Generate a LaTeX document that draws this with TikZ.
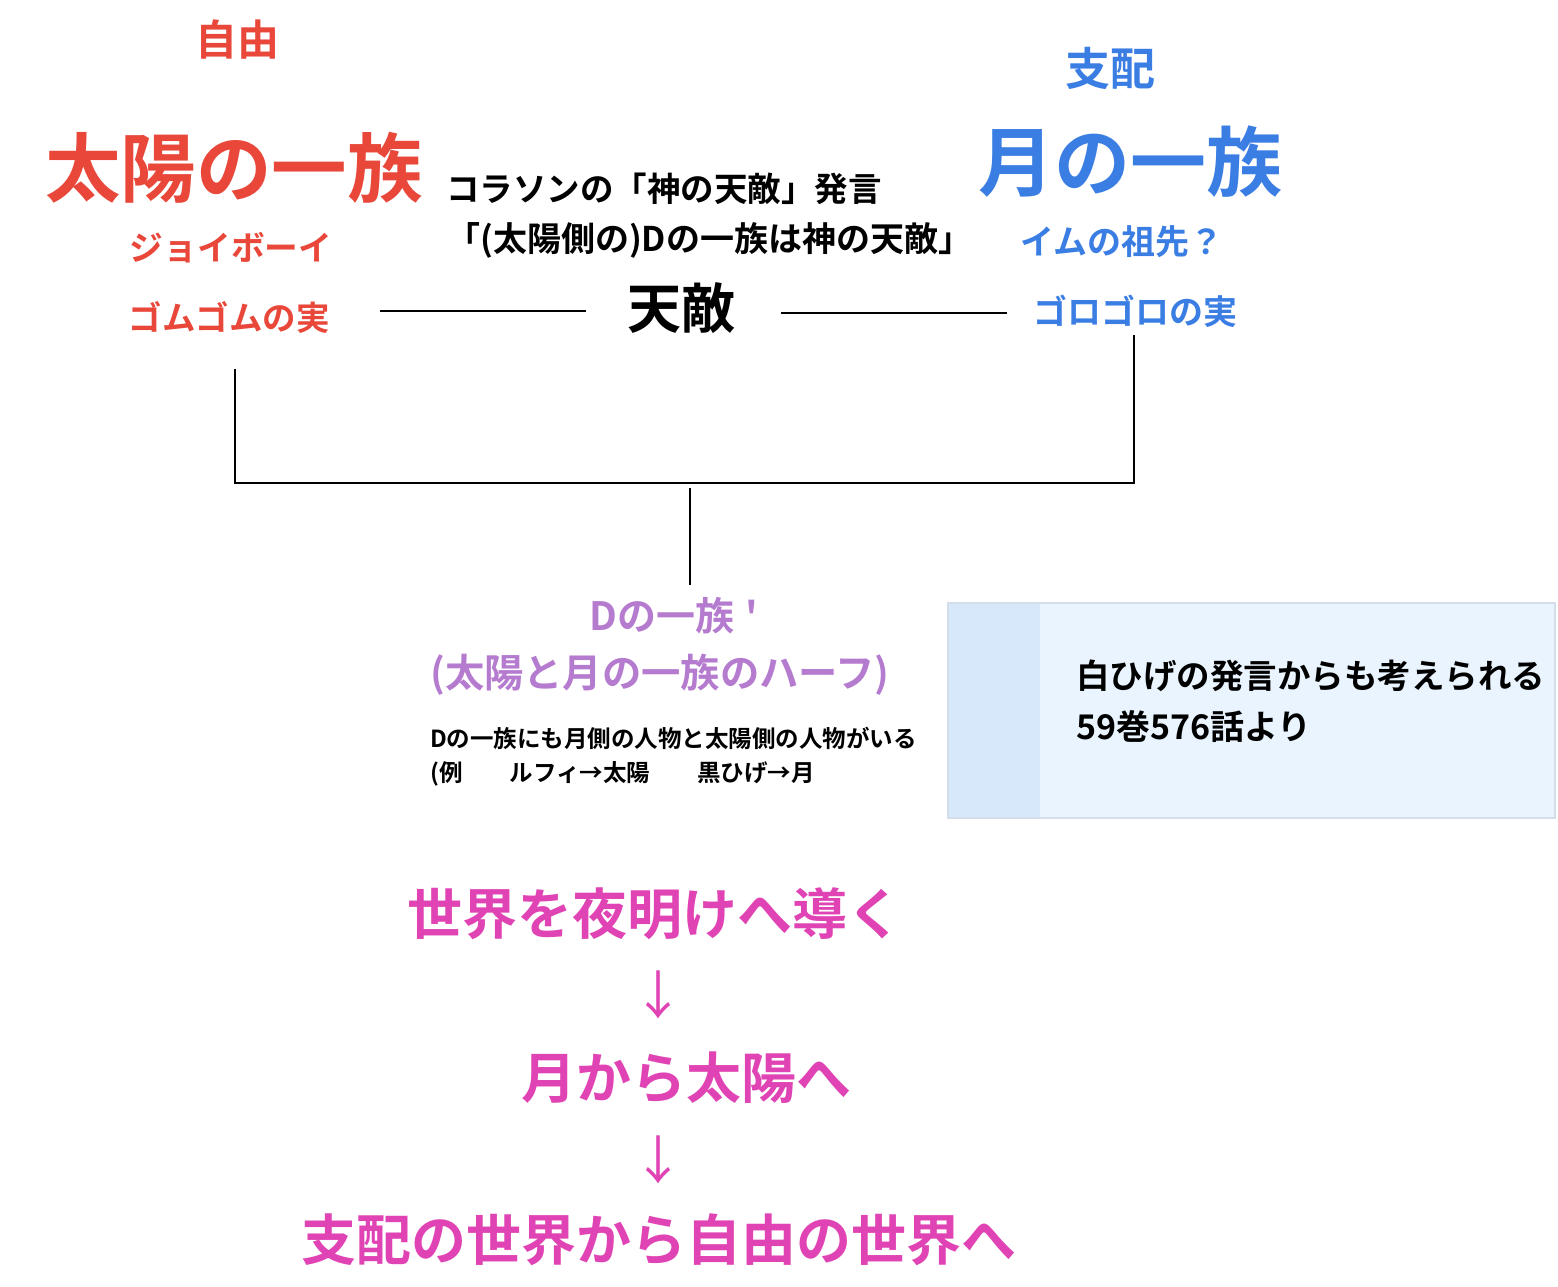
\documentclass[tikz,border=0pt]{standalone}
\usepackage{fontspec}
\newfontfamily\jp{Noto Sans CJK JP}[BoldFont={Noto Sans CJK JP Bold}]
\definecolor{sunred}{HTML}{E8473A}
\definecolor{moonblue}{HTML}{3A7DE3}
\definecolor{dpurple}{HTML}{B57BCF}
\definecolor{dawnpink}{HTML}{E044B4}
\definecolor{boxfill}{HTML}{EAF4FE}
\definecolor{boxstrip}{HTML}{D7E8FA}
\definecolor{boxedge}{HTML}{D3DEEA}
\tikzset{
  txt/.style={inner sep=0pt, font=\jp\bfseries},
  fs/.style={font=\jp\bfseries\fontsize{#1}{#1}\selectfont},
  link/.style={line width=2pt, black},
}
\begin{document}
\begin{tikzpicture}[x=1pt,y=-1pt]
\useasboundingbox (0,0) rectangle (1558,1286);
% left family
\node[txt, fs=42, text=sunred] (jiyu) at (237,40) {自由};
\node[txt, fs=75.5, text=sunred] (taiyo) at (234,168) {太陽の一族};
\node[txt, fs=33.7, text=sunred] (joy) at (231,248) {ジョイボーイ};
\node[txt, fs=33.5, text=sunred] (gomu) at (229,318) {ゴムゴムの実};
% right family
\node[txt, fs=45, text=moonblue] (shihai) at (1110,68) {支配};
\node[txt, fs=76, text=moonblue] (tsuki) at (1130,162) {月の一族};
\node[txt, fs=34, text=moonblue] (imu) at (1122,242) {イムの祖先？};
\node[txt, fs=34, text=moonblue] (goro) at (1135,311) {ゴロゴロの実};
% center
\node[txt, fs=33.5, anchor=west] (cora) at (446,189) {コラソンの「神の天敵」発言};
\node[txt, fs=34, anchor=west] (quote) at (446,240) {「(太陽側の)Dの一族は神の天敵」};
\node[txt, fs=54] (tenteki) at (681,308) {天敵};
% connectors
\coordinate (l1a) at (380,311);
\coordinate (l1b) at (586,311);
\coordinate (l2a) at (781,313);
\coordinate (l2b) at (1007,313);
\coordinate (gomuB) at (235,369);
\coordinate (goroB) at (1134,335);
\coordinate (joinL) at (235,483);
\coordinate (joinR) at (1134,483);
\coordinate (stemT) at (690,488);
\coordinate (stemB) at (690,585);
\draw[link] (l1a) -- (l1b);
\draw[link] (l2a) -- (l2b);
\draw[link] (gomuB) -- (joinL) -- (joinR) -- (goroB);
\draw[link] (stemT) -- (stemB);
% D family
\node[txt, fs=39, text=dpurple] (dfam) at (674,616) {Dの一族\hspace{0.3em}'};
\node[txt, fs=39.3, text=dpurple] (half) at (660,675) {(太陽と月の一族のハーフ)};
\node[txt, fs=23.5, anchor=west] (note1) at (430,738) {Dの一族にも月側の人物と太陽側の人物がいる};
\node[txt, fs=23.5, anchor=west] (note2) at (430,774) {(例　　ルフィ→太陽　　黒ひげ→月};
% box
\path[fill=boxfill] (948,603) rectangle (1555,818);
\path[fill=boxstrip] (948,603) rectangle (1040,818);
\draw[boxedge, line width=2pt] (948,603) rectangle (1555,818);
\node[txt, fs=33.5, anchor=west] (shiro) at (1076,676) {白ひげの発言からも考えられる};
\node[txt, fs=34, anchor=west] (vol) at (1076,727) {59巻576話より};
% bottom
\node[txt, fs=55, text=dawnpink] (dawn) at (655,914) {世界を夜明けへ導く};
\node[inner sep=0pt, font=\jp\fontsize{52}{52}\selectfont, text=dawnpink] (ar1) at (658,995) {↓};
\node[txt, fs=55, text=dawnpink] (sun) at (686,1078) {月から太陽へ};
\node[inner sep=0pt, font=\jp\fontsize{52}{52}\selectfont, text=dawnpink] (ar2) at (658,1160) {↓};
\node[txt, fs=55, text=dawnpink] (free) at (659,1240) {支配の世界から自由の世界へ};
\end{tikzpicture}
\end{document}
